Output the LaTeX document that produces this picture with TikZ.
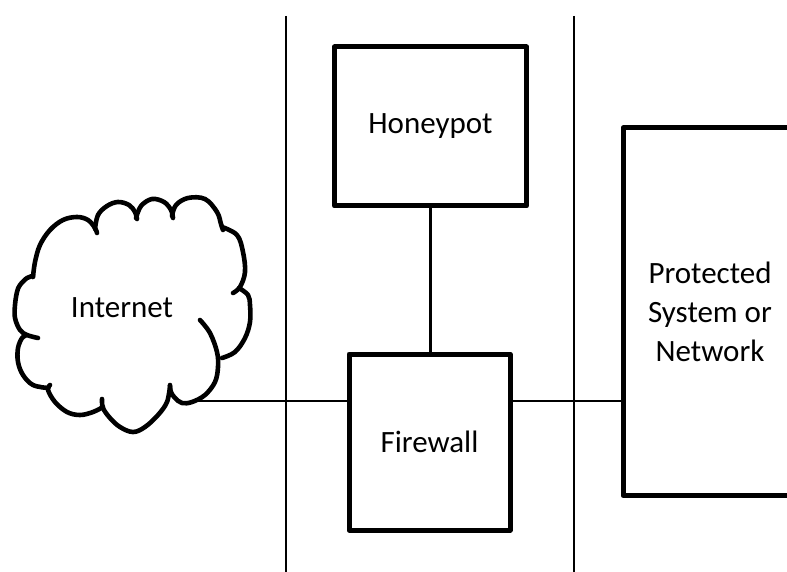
\documentclass[tikz,border=0pt]{standalone}
\usepackage{fontspec}
\setmainfont{Carlito}
\begin{document}
\begin{tikzpicture}[x=1pt,y=-1pt,
  label font/.style={font=\fontsize{31}{39}\selectfont},
  box/.style={draw,line width=5pt,line join=round,inner sep=0pt,label font,align=center},
  wire/.style={line width=2.6pt},
  zone/.style={line width=2pt},
  puff/.style={line width=4.6pt,line cap=round,line join=round}]
\path[use as bounding box] (0,0) rectangle (787,572);
\clip (0,0) rectangle (787,572);

% zone boundaries
\coordinate (zoneAtop) at (286,16);
\coordinate (zoneAbot) at (286,575);
\coordinate (zoneBtop) at (574,16);
\coordinate (zoneBbot) at (574,575);
\draw[zone] (zoneAtop) -- (zoneAbot);
\draw[zone] (zoneBtop) -- (zoneBbot);

% cloud outline, one puff at a time
\draw[puff] plot[smooth,tension=0.6] coordinates {(33,277) (35,262) (40,245) (50,230) (63,220) (77,217) (88,220) (95,228) (97,233)};
\draw[puff] plot[smooth,tension=0.6] coordinates {(95,229) (98,215) (107,206) (118,202) (129,205) (135,212) (137,219)};
\draw[puff] plot[smooth,tension=0.6] coordinates {(136,218) (141,206) (152,199) (164,202) (171,210) (173,218)};
\draw[puff] plot[smooth,tension=0.6] coordinates {(172,216) (176,205) (188,198) (205,199) (217,212) (221,224) (223,230)};
\draw[puff] plot[smooth,tension=0.6] coordinates {(222,227) (237,235) (243,252) (245,272) (240,287) (233,293)};
\draw[puff] plot[smooth,tension=0.6] coordinates {(239,288) (248,295) (250,305) (250,322) (245,338) (235,352) (222,358)};
\draw[puff] plot[smooth,tension=0.6] coordinates {(200,320) (210,333) (217,352) (218,367) (215,382) (205,395) (192,402) (182,403) (175,398) (171,392) (170,385)};
\draw[puff] plot[smooth,tension=0.6] coordinates {(170,386) (167,402) (158,415) (145,427) (133,432) (120,427) (110,418) (103,408) (102,399)};
\draw[puff] plot[smooth,tension=0.6] coordinates {(103,407) (93,412) (80,415) (67,412) (55,402) (48,390) (50,385)};
\draw[puff] plot[smooth,tension=0.6] coordinates {(48,388) (33,385) (23,375) (18,362) (18,348) (22,338) (25,336)};
\draw[puff] plot[smooth,tension=0.6] coordinates {(33,276) (27,278) (20,285) (17,292) (15,305) (15,318) (20,330) (27,335) (38,338)};

\node[label font,inner sep=0pt] (inet) at (122,308) {Internet};
\coordinate (inetport) at (197,401);

% devices
\node[box,minimum width=192pt,minimum height=159pt] (hp) at (430.5,126.5) {Honeypot};
\node[box,minimum width=161pt,minimum height=176pt] (fw) at (429.5,442) {Firewall};
\node[box,minimum width=174pt,minimum height=367.5pt] (ps) at (710,311.75) {Protected\\System or\\Network};

% links
\draw[wire] (inetport) -- (inetport -| fw.west);
\draw[wire] (inetport -| fw.east) -- (inetport -| ps.west);
\draw[wire] (hp.south) -- (hp.south |- fw.north);
\end{tikzpicture}
\end{document}
